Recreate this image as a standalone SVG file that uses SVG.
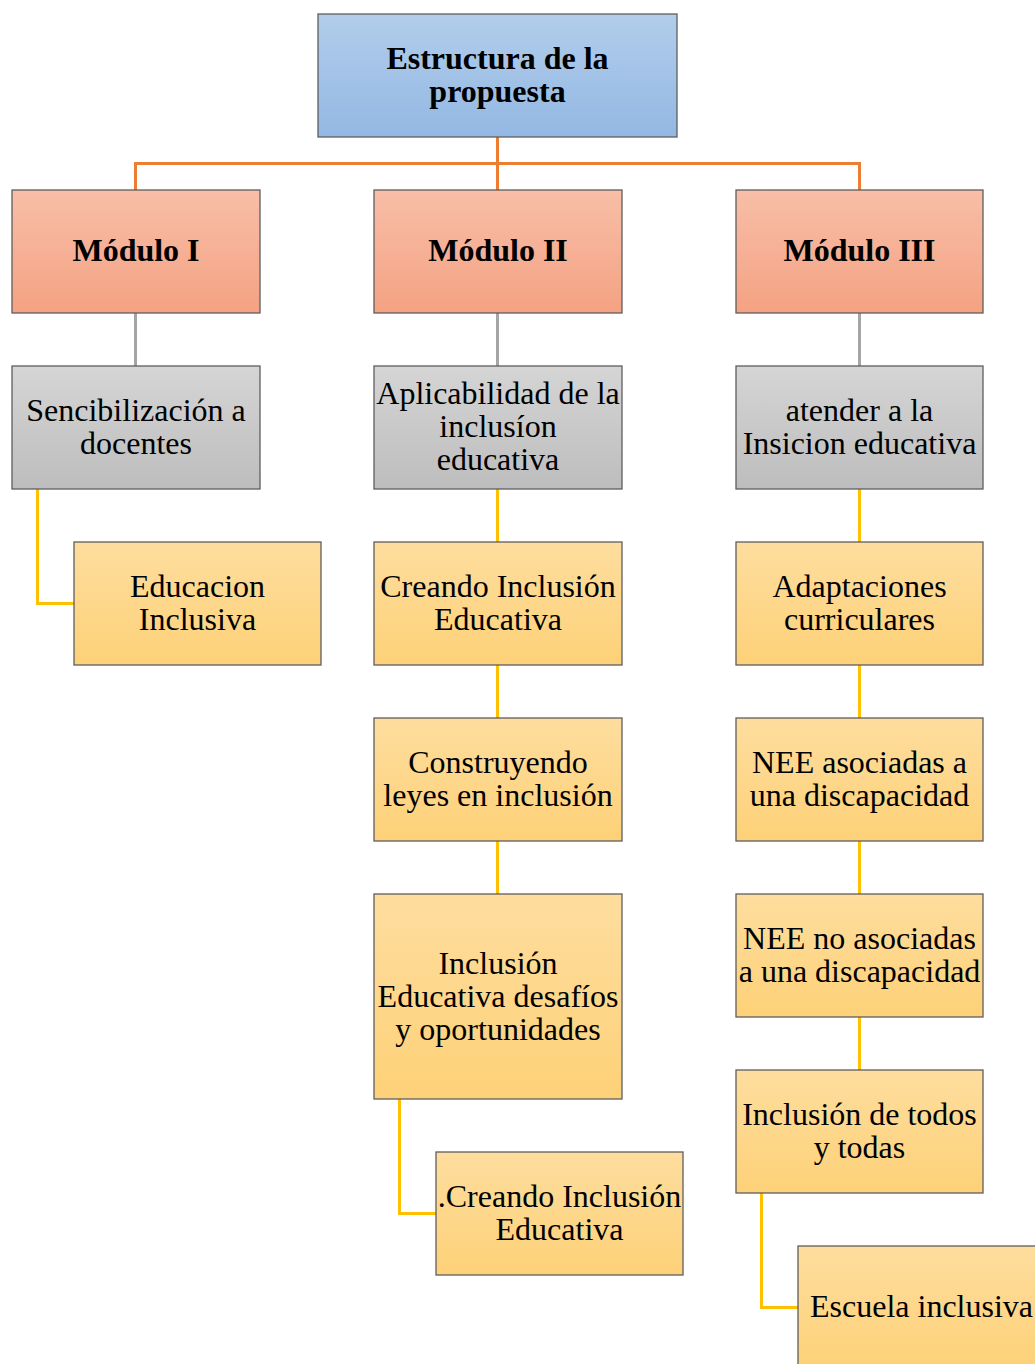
<svg xmlns="http://www.w3.org/2000/svg" width="1035" height="1364" viewBox="0 0 1035 1364">
<defs>
<linearGradient id="gBlue" x1="0" y1="0" x2="0" y2="1"><stop offset="0" stop-color="#b2cdeb"/><stop offset="1" stop-color="#93b8e3"/></linearGradient>
<linearGradient id="gSalmon" x1="0" y1="0" x2="0" y2="1"><stop offset="0" stop-color="#f8bea8"/><stop offset="1" stop-color="#f4a282"/></linearGradient>
<linearGradient id="gGray" x1="0" y1="0" x2="0" y2="1"><stop offset="0" stop-color="#d5d5d5"/><stop offset="1" stop-color="#bdbdbd"/></linearGradient>
<linearGradient id="gYellow" x1="0" y1="0" x2="0" y2="1"><stop offset="0" stop-color="#fedd9e"/><stop offset="1" stop-color="#fdd178"/></linearGradient>
</defs>
<style>
rect{stroke:#5e5e5e;stroke-width:1.3}
.blue{fill:url(#gBlue)}
.salmon{fill:url(#gSalmon)}
.gray{fill:url(#gGray)}
.yellow{fill:url(#gYellow)}
text{font-family:"Liberation Serif","Times New Roman",serif;font-size:32px;fill:#000;text-anchor:middle}
.b{font-weight:bold;font-size:32px}
.co{stroke:#ed7d31;stroke-width:3;fill:none}
.cg{stroke:#a5a5a5;stroke-width:3;fill:none}
.cy{stroke:#ffc000;stroke-width:3;fill:none}
</style>
<rect width="1035" height="1364" fill="#fff" style="stroke:none"/>
<g id="connectors">
<path class="co" d="M497.5 137V190M135.5 190V163.5H859.5V190"/>
<path class="cg" d="M135.5 313V366M497.5 313V366M859.5 313V366"/>
<path class="cy" d="M37.5 489V603.5H74"/>
<path class="cy" d="M497.5 489V542M497.5 665V718M497.5 841V894"/>
<path class="cy" d="M399.5 1099V1213.5H436"/>
<path class="cy" d="M859.5 489V542M859.5 665V718M859.5 841V894M859.5 1017V1070"/>
<path class="cy" d="M761.5 1193V1307.5H798"/>
</g>
<g id="n-top"><rect class="blue" x="318" y="14" width="359" height="123"/><text class="b" x="497.5" y="69">Estructura de la</text><text class="b" x="497.5" y="102">propuesta</text></g>
<g id="n-m1"><rect class="salmon" x="12" y="190" width="248" height="123"/><text class="b" x="136" y="261">Módulo I</text></g>
<g id="n-m2"><rect class="salmon" x="374" y="190" width="248" height="123"/><text class="b" x="498" y="261">Módulo II</text></g>
<g id="n-m3"><rect class="salmon" x="736" y="190" width="247" height="123"/><text class="b" x="859.5" y="261">Módulo III</text></g>
<g id="n-sens"><rect class="gray" x="12" y="366" width="248" height="123"/><text x="136" y="421">Sencibilización a</text><text x="136" y="454">docentes</text></g>
<g id="n-aplic"><rect class="gray" x="374" y="366" width="248" height="123"/><text x="498" y="404">Aplicabilidad de la</text><text x="498" y="437">inclusíon</text><text x="498" y="470">educativa</text></g>
<g id="n-atender"><rect class="gray" x="736" y="366" width="247" height="123"/><text x="859.5" y="421">atender a la</text><text x="859.5" y="454">Insicion educativa</text></g>
<g id="n-edinc"><rect class="yellow" x="74" y="542" width="247" height="123"/><text x="197.5" y="597">Educacion</text><text x="197.5" y="630">Inclusiva</text></g>
<g id="n-creando"><rect class="yellow" x="374" y="542" width="248" height="123"/><text x="498" y="597">Creando Inclusión</text><text x="498" y="630">Educativa</text></g>
<g id="n-construyendo"><rect class="yellow" x="374" y="718" width="248" height="123"/><text x="498" y="773">Construyendo</text><text x="498" y="806">leyes en inclusión</text></g>
<g id="n-desafios"><rect class="yellow" x="374" y="894" width="248" height="205"/><text x="498" y="974">Inclusión</text><text x="498" y="1007">Educativa desafíos</text><text x="498" y="1040">y oportunidades</text></g>
<g id="n-creando2"><rect class="yellow" x="436" y="1152" width="247" height="123"/><text x="559.5" y="1207">.Creando Inclusión</text><text x="559.5" y="1240">Educativa</text></g>
<g id="n-adapt"><rect class="yellow" x="736" y="542" width="247" height="123"/><text x="859.5" y="597">Adaptaciones</text><text x="859.5" y="630">curriculares</text></g>
<g id="n-nee1"><rect class="yellow" x="736" y="718" width="247" height="123"/><text x="859.5" y="773">NEE asociadas a</text><text x="859.5" y="806">una discapacidad</text></g>
<g id="n-nee2"><rect class="yellow" x="736" y="894" width="247" height="123"/><text x="859.5" y="949">NEE no asociadas</text><text x="859.5" y="982">a una discapacidad</text></g>
<g id="n-todos"><rect class="yellow" x="736" y="1070" width="247" height="123"/><text x="859.5" y="1125">Inclusión de todos</text><text x="859.5" y="1158">y todas</text></g>
<g id="n-escuela"><rect class="yellow" x="798" y="1246" width="247" height="123"/><text x="921.5" y="1317">Escuela inclusiva</text></g>
</svg>
